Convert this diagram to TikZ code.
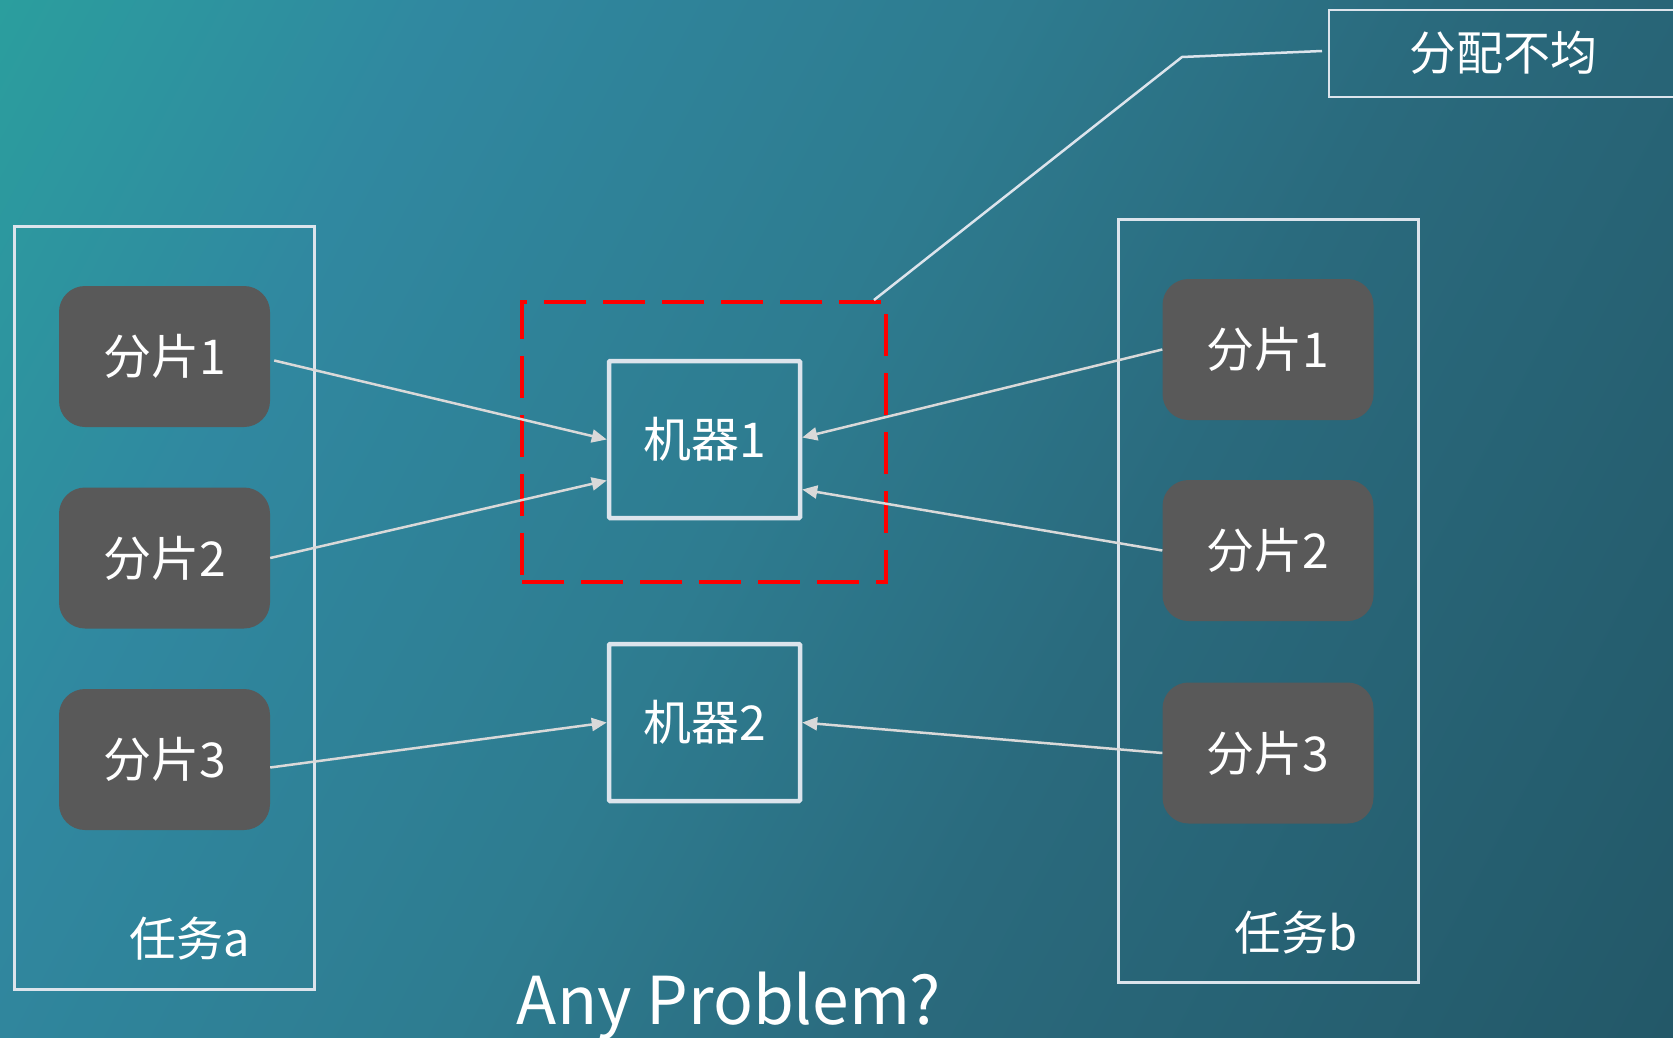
\documentclass[tikz,border=0pt]{standalone}
\usepackage{fontspec}
\setmainfont{Noto Sans CJK SC}
\usetikzlibrary{arrows.meta,calc,positioning}
\definecolor{bgA}{HTML}{2B9E9E}
\definecolor{bgB}{HTML}{3088A0}
\definecolor{bgC}{HTML}{2E7C90}
\definecolor{bgD}{HTML}{2A6A7D}
\definecolor{bgE}{HTML}{235868}
\definecolor{chipgray}{HTML}{595959}
\definecolor{edgecol}{HTML}{DCE4EC}
\definecolor{arrcol}{HTML}{D9D9D9}
\pgfdeclarehorizontalshading{bgshade}{100bp}{color(0bp)=(bgA); color(25bp)=(bgA); color(35bp)=(bgB); color(47.5bp)=(bgC); color(57.5bp)=(bgD); color(75bp)=(bgE); color(100bp)=(bgE)}
\tikzset{
  taskbox/.style={draw=edgecol,line width=2.5pt,minimum width=300pt,minimum height=763pt},
  chip/.style={fill=chipgray,rounded corners=26pt,minimum width=211pt,minimum height=141pt,text=white,font=\fontsize{48}{57}\selectfont},
  machine/.style={draw=edgecol,line width=4.5pt,minimum width=191pt,minimum height=157pt,text=white,font=\fontsize{48}{57}\selectfont,rounded corners=1pt},
  label/.style={text=white,font=\fontsize{47}{56}\selectfont},
  flow/.style={draw=arrcol,line width=2.5pt,-{Triangle[length=15pt,width=13pt]}},
  redbox/.style={draw=red,line width=4pt,dash pattern=on 42pt off 17pt,minimum width=364pt,minimum height=280pt},
  callout/.style={draw=edgecol,line width=2.5pt}
}
\begin{document}
\begin{tikzpicture}[x=1pt,y=-1pt]
\useasboundingbox (0,0) rectangle (1673,1038);
\clip (0,0) rectangle (1673,1038);
\shade[shading=bgshade,shading angle=-28] (-145.5,-463) rectangle (1818.5,1501);

% task containers
\node[taskbox] (ta) at (164.5,608) {};
\node[taskbox] (tb) at (1268.5,601) {};

% chips
\node[chip] (la1) at (164.5,356.5) {分片1};
\node[chip] (la2) at (164.5,558) {分片2};
\node[chip] (la3) at (164.5,759.5) {分片3};
\node[chip] (rb1) at (1268,349.5) {分片1};
\node[chip] (rb2) at (1268,550.5) {分片2};
\node[chip] (rb3) at (1268,753) {分片3};

% machines
\node[redbox] (grp) at (704,442) {};
\node[machine] (m1) at (704.5,439.5) {机器1};
\node[machine] (m2) at (704.5,722.5) {机器2};

% labels
\node[label] (la) at (190,939) {任务a};
\node[label] (lb) at (1296,933) {任务b};
\node[text=white,font=\fontsize{66}{78}\selectfont] (q) at (729,1006) {Any Problem?};

% callout
\node[label] (note) at (1503,53) {分配不均};
\draw[callout] (1329,10) rectangle (1700,97);
\coordinate (nl) at (1322,51);
\coordinate (bend) at (1182,57);
\draw[callout] ($(grp.north east)+(-14,0)$) -- (bend) -- (nl);

% flows
\draw[flow] ($(la1.east)+(4,4)$) -- (m1.west);
\draw[flow] (la2.east) -- ($(m1.west)+(0,41)$);
\draw[flow] ($(la3.east)+(0,8)$) -- (m2.west);
\draw[flow] (rb1.west) -- ($(m1.east)+(0,-2)$);
\draw[flow] (rb2.west) -- ($(m1.east)+(0,50)$);
\draw[flow] (rb3.west) -- (m2.east);
\end{tikzpicture}
\end{document}
